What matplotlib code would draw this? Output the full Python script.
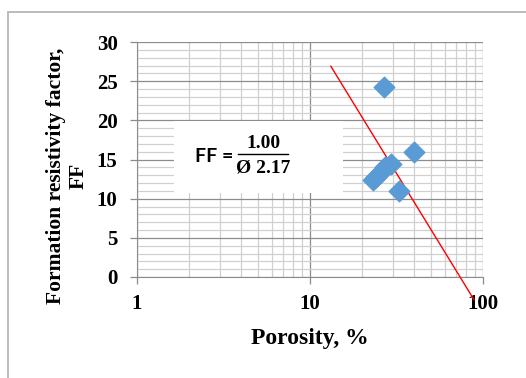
import numpy as np
import matplotlib.pyplot as plt
from matplotlib.patches import Rectangle
from matplotlib.ticker import FixedLocator, NullFormatter

# porosity (%) and formation factor of the core samples
porosity = [26.7, 39.8, 29.3, 27.3, 25.6, 24.0, 23.0, 32.6]
ff = [24.2, 16.0, 14.4, 14.0, 13.4, 12.8, 12.4, 11.0]

# trend line end points
trend_x = [13.2, 88.7]
trend_y = [26.9, -2.9]

yticks = [0, 5, 10, 15, 20, 25, 30]
xticks = [1, 10, 100]

plt.rcParams['font.family'] = ['Liberation Serif', 'DejaVu Serif']

fig = plt.figure(figsize=(5.26, 3.78), dpi=100)
ax = fig.add_axes([137/526, 1 - 277/378, 346/526, 235/378])

# outer chart frame
fig.patches.append(Rectangle((8/526, -0.1), 1.2, 1 - 12/378 + 0.1, transform=fig.transFigure,
                             fill=False, edgecolor='#b0b0b0', lw=1.2))

ax.set_xscale('log')
ax.set_xlim(1, 100)
ax.set_ylim(0, 30)

ax.xaxis.set_major_locator(FixedLocator(xticks))
ax.xaxis.set_minor_locator(FixedLocator([m * d for d in (1, 10) for m in range(2, 10)]))
ax.xaxis.set_minor_formatter(NullFormatter())
ax.set_xticks(xticks, [str(v) for v in xticks])
ax.yaxis.set_major_locator(FixedLocator(yticks))
ax.yaxis.set_minor_locator(FixedLocator([v for v in range(0, 31) if v % 5]))

ax.grid(which='major', color='#8c8c8c', lw=0.9)
ax.grid(which='minor', color='#d0d0d0', lw=0.9)
ax.set_axisbelow(True)

for s in ('top', 'right'):
    ax.spines[s].set_visible(False)
for s in ('left', 'bottom'):
    ax.spines[s].set_color('#8c8c8c')
ax.tick_params(which='major', length=5, color='#8c8c8c', width=0.9, labelsize=15)
ax.tick_params(which='minor', length=0)
ax.tick_params(axis='x', pad=7)
ax.tick_params(axis='y', pad=9)
for lab in ax.get_xticklabels() + ax.get_yticklabels():
    lab.set_fontweight('bold')

# equation box
ax.add_patch(Rectangle((174/526, 1 - 193/378), 169/526, 72/378, transform=fig.transFigure,
                       facecolor='white', edgecolor='none', zorder=2))
fig.text(195/526, 1 - 156/378, 'FF =', fontsize=14, fontweight='bold',
         family=['Lato', 'DejaVu Sans'], va='center', zorder=3)
fig.text(264/526, 1 - 143/378, '1.00', fontsize=14, fontweight='bold', ha='center', va='center', zorder=3)
fig.text(263/526, 1 - 168/378, 'Ø 2.17', fontsize=14, fontweight='bold', ha='center', va='center', zorder=3)
fig.add_artist(plt.Line2D([238/526, 288/526], [1 - 154/378, 1 - 154/378], color='black', lw=1, zorder=3))

ax.plot(trend_x, trend_y, color='red', lw=1, clip_on=False, zorder=4)
ax.scatter(porosity, ff, marker='D', s=110, color='#5b9bd5', zorder=5)

ax.set_xlabel('Porosity, %', fontsize=17, fontweight='bold', labelpad=10)
ax.set_ylabel('Formation resistivity factor,\nFF', fontsize=15.5, fontweight='bold', linespacing=1.2)
ax.yaxis.set_label_coords(-0.14, 0.43)

fig.savefig('out.png', dpi=100)
